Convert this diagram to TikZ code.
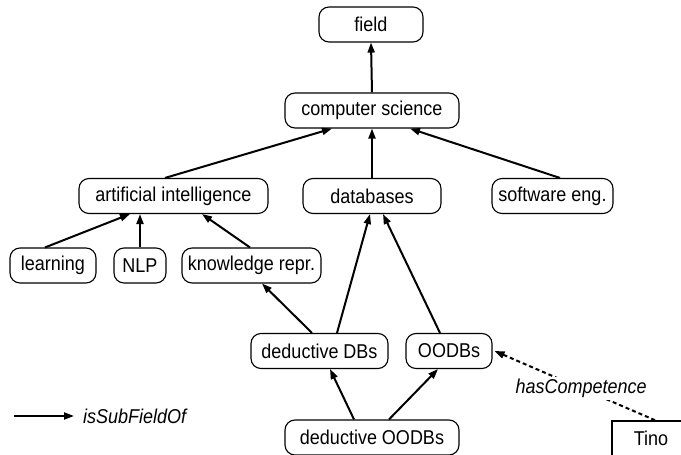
\documentclass[tikz,border=0pt]{standalone}
\usepackage{fontspec}
\setmainfont{Liberation Sans}[FakeStretch=0.9]
\usetikzlibrary{arrows.meta}
\begin{document}
\begin{tikzpicture}[x=1pt,y=-1pt,
  font=\fontsize{20}{23}\selectfont,
  fbox/.style={draw, line width=1.1pt, rounded corners=10pt, minimum height=35pt, inner sep=0pt},
  sub/.style={line width=2pt, -{Triangle[length=10pt,width=7pt]}},
  comp/.style={line width=2pt, dash pattern=on 4pt off 3pt, -{Triangle[length=10pt,width=7pt]}}]
\useasboundingbox (0,0) rectangle (681,455);
\node[fbox, minimum width=104pt] (field) at (371,24.5) {field};
\node[fbox, minimum width=174pt] (cs) at (372,110.5) {computer science};
\node[fbox, minimum width=189pt] (ai) at (173.5,196) {artificial intelligence};
\node[fbox, minimum width=138pt] (db) at (372,196) {databases};
\node[fbox, minimum width=121pt] (se) at (552.5,196) {software eng.};
\node[fbox, minimum width=86pt] (learn) at (53,265.5) {learning};
\node[fbox, minimum width=52pt] (nlp) at (140,265.5) {NLP};
\node[fbox, minimum width=139pt] (kr) at (251.5,265.5) {knowledge repr.};
\node[fbox, minimum width=137pt] (ddb) at (319.5,351) {deductive DBs};
\node[fbox, minimum width=86pt] (oodb) at (449,351) {OODBs};
\node[fbox, minimum width=174pt] (doodb) at (372,437.5) {deductive OODBs};
\node[draw, line width=1.6pt, minimum width=78pt, minimum height=35pt, inner sep=0pt] (tino) at (651,438.5) {Tino};

\draw[sub] (cs.north) -- (field.south);
\draw[sub] ([xshift=-8.5pt]ai.north) -- ([xshift=-40pt]cs.south);
\draw[sub] (db.north) -- (cs.south);
\draw[sub] ([xshift=7.5pt]se.north) -- ([xshift=38pt]cs.south);
\draw[sub] ([xshift=-8pt]learn.north) -- ([xshift=-43.5pt]ai.south);
\draw[sub] (nlp.north) -- (nlp.north |- ai.south);
\draw[sub] ([xshift=-1.5pt]kr.north) -- ([xshift=28.5pt]ai.south);
\draw[sub] ([xshift=-7.5pt]ddb.north) -- ([xshift=10.5pt]kr.south);
\draw[sub] ([xshift=17.5pt]ddb.north) -- ([xshift=-2pt]db.south);
\draw[sub] ([xshift=-9pt]oodb.north) -- ([xshift=11pt]db.south);
\draw[sub] ([xshift=-18pt]doodb.north) -- ([xshift=10.5pt]ddb.south);
\draw[sub] ([xshift=17pt]doodb.north) -- ([xshift=-11pt]oodb.south);
\draw[comp] ([xshift=4pt]tino.north) -- node[pos=0.46, fill=white, inner sep=2pt, font=\fontsize{20}{23}\selectfont\itshape] (hc) {hasCompetence} ([xshift=2pt]oodb.east);

\coordinate (l1) at (14,416);
\node[anchor=west, inner sep=0pt, font=\fontsize{20}{23}\selectfont\itshape] (leg) at (83,416) {isSubFieldOf};
\draw[sub] (l1) -- ([xshift=-9pt]leg.west);
\end{tikzpicture}
\end{document}
